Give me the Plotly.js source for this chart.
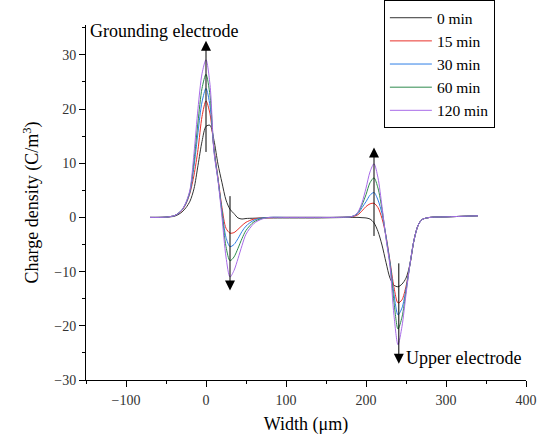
<!DOCTYPE html>
<html>
<head>
<meta charset="utf-8">
<script src="https://cdn.plot.ly/plotly-3.0.1.min.js"></script>
<style>html,body{margin:0;padding:0;background:#fff;}#chart{width:547px;height:441px;}</style>
</head>
<body>
<div id="chart"></div>
<script>
// Width positions (μm)
const width = [-70,-60,-50,-40,-35,-30,-25,-20,-15,-10,-5,0,5,10,15,20,25,30,35,40,45,50,60,70,80,100,120,140,160,180,185,190,195,200,205,210,215,220,225,230,235,240,245,250,255,260,265,270,280,300,340];

// Charge density (C/m^3) per polarization time
const min0   = [0,0,0.05,0.2,0.5,1,1.8,3,5.3,9.6,14,16.8,17,14.2,9.8,6.4,3.2,1.5,0.7,-0.1,-0.3,-0.2,-0.15,-0.1,-0.1,-0.1,-0.1,-0.1,-0.05,0,0,0,-0.05,-0.1,-0.3,-1,-2.6,-5.1,-8.3,-11.2,-12.5,-12.8,-12.3,-11.2,-8.6,-4.2,-1.5,-0.4,0,0.1,0.3];
const min15  = [0,0,0.05,0.3,0.7,1.3,2.5,4.5,7.8,12.5,18.6,21.5,19.1,12.7,7.3,1.8,-2,-2.9,-2.8,-2.2,-1.5,-0.9,-0.3,-0.1,-0.05,0,0,0,0,0.1,0.2,0.5,1.2,2,2.5,2.6,1.8,-0.2,-3.4,-8.1,-12.9,-15.8,-15.2,-12.7,-8.6,-4.2,-1.5,-0.4,0,0.1,0.3];
const min30  = [0,0,0.05,0.3,0.7,1.4,2.6,4.7,9.4,15.7,21.3,23.8,20.6,12.5,7,1.2,-3.7,-5.4,-5,-3.9,-2.6,-1.6,-0.5,-0.1,0,0,0,0,0,0.1,0.3,0.7,1.8,2.9,4.1,4.6,3.2,0.7,-3.5,-8.3,-14.2,-18,-16.7,-13.2,-8.6,-4.2,-1.5,-0.4,0,0.1,0.3];
const min60  = [0,0,0.05,0.3,0.7,1.4,2.7,4.9,10.5,17.6,23.8,26.4,22.5,12.3,7,0.8,-5.4,-8,-7.3,-5.7,-3.9,-2.4,-0.8,-0.2,0,0,0,0,0,0.1,0.3,0.9,2.3,4.2,6.4,7.3,5.4,1.5,-3.7,-8.6,-15.7,-20.6,-18.4,-13.7,-8.6,-4.2,-1.5,-0.4,0,0.1,0.3];
const min120 = [0,0,0.05,0.3,0.7,1.4,2.8,5.1,11.8,20.1,26.5,29.1,24.5,12,6.8,0,-7.3,-11,-9.8,-7.6,-5.2,-3.1,-1.1,-0.3,0,0,0,0,0,0.1,0.3,1,2.7,5.4,8.4,9.9,7.3,2,-3.9,-9,-18.1,-23.5,-20.1,-14.2,-8.6,-4.2,-1.5,-0.4,0,0.1,0.3];

const seriesNames  = ['0 min','15 min','30 min','60 min','120 min'];
const seriesColors = ['#333333','#e8302a','#2f7fe6','#2e8b4e','#a86be8'];
const seriesData   = [min0, min15, min30, min60, min120];

// Arrow annotations: [headX, headY, tailX, tailY]
const arrows = [[0,32.6,0,11.8],[30,-13.5,30,4.2],[210,12.9,210,-3.7],[241,-27,241,-8.2]];
const labels = [{text:'Grounding electrode', x:-147, y:34.4},{text:'Upper electrode', x:248, y:-25.9}];

const FONT = 'Liberation Serif, Times New Roman, serif';

const traces = seriesData.map((d,i)=>({
  x: width, y: d, type:'scatter', mode:'lines', name: seriesNames[i],
  line:{color: seriesColors[i], width:1, shape:'spline', smoothing:0.8}
}));

const annotations = arrows.map(a=>({
  x:a[0], y:a[1], ax:a[2], ay:a[3], xref:'x', yref:'y', axref:'x', ayref:'y',
  text:'', showarrow:true, arrowhead:2, arrowsize:2, arrowwidth:1, arrowcolor:'#000'
})).concat(labels.map(l=>({
  x:l.x, y:l.y, xref:'x', yref:'y', text:l.text, showarrow:false, xanchor:'left', yanchor:'middle',
  font:{family:FONT, size:18, color:'#000'}
})));

const layout = {
  width:547, height:441,
  margin:{l:86, r:21, t:25, b:61, autoexpand:false},
  paper_bgcolor:'#fff', plot_bgcolor:'#fff',
  showlegend:true,
  legend:{x:0.677, y:1.07, xanchor:'left', yanchor:'top', bordercolor:'#000', borderwidth:1,
    bgcolor:'#fff', itemwidth:42, font:{family:FONT, size:15.5, color:'#000'}},
  xaxis:{range:[-150,400], tick0:0, dtick:100, showgrid:false, zeroline:false,
    showline:true, linecolor:'#000', linewidth:1, ticks:'outside', ticklen:6, tickcolor:'#000',
    ticklabelstandoff:1,
    minor:{dtick:50, ticks:'outside', ticklen:3, tickcolor:'#000'},
    tickfont:{family:FONT, size:14, color:'#333'},
    title:{text:'Width (μm)', font:{family:FONT, size:18, color:'#000'}, standoff:10}},
  yaxis:{range:[-30,35.5], tick0:0, dtick:10, showgrid:false, zeroline:false,
    showline:true, linecolor:'#000', linewidth:1, ticks:'outside', ticklen:6, tickcolor:'#000',
    minor:{dtick:5, ticks:'outside', ticklen:3, tickcolor:'#000'},
    tickfont:{family:FONT, size:14, color:'#333'},
    title:{text:'Charge density (C/m<sup>3</sup>)', font:{family:FONT, size:18, color:'#000'}, standoff:10}},
  annotations: annotations
};

Plotly.newPlot('chart', traces, layout, {displayModeBar:false, staticPlot:true});
</script>
</body>
</html>
